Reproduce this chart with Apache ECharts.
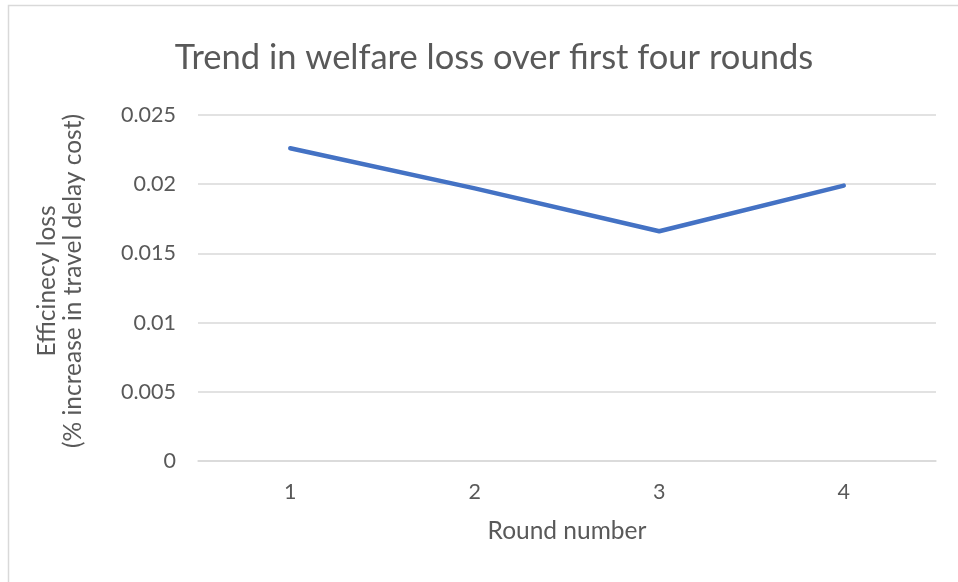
<!DOCTYPE html>
<html>
<head>
<meta charset="utf-8">
<script src="https://cdn.jsdelivr.net/npm/echarts@6/dist/echarts.min.js"></script>
<style>
  html, body { margin: 0; padding: 0; background: #fff; }
  #chart { width: 958px; height: 582px; }
</style>
</head>
<body>
<div id="chart"></div>
<script>
// data
const rounds = ["1", "2", "3", "4"];
const welfareLoss = [0.0226, 0.0197, 0.0166, 0.0199];
const yTicks = { min: 0, max: 0.025, interval: 0.005 };

const textColor = "#595959";
const font = "Lato, 'Open Sans', sans-serif";

const chart = echarts.init(document.getElementById("chart"));
chart.setOption({
  backgroundColor: "#fff",
  animation: false,
  // light frame of the chart area (only top and left edges show)
  graphic: [
    {
      type: "rect",
      shape: { x: 8.5, y: 5.5, width: 1000, height: 700 },
      style: { fill: "none", stroke: "#d9d9d9", lineWidth: 1.5 },
      silent: true,
    },
  ],
  title: {
    text: "Trend in welfare loss over first four rounds",
    left: 489,
    textAlign: "center",
    top: 35,
    textStyle: {
      color: textColor,
      fontFamily: font,
      fontSize: 34.5,
      fontWeight: "normal",
    },
  },
  grid: { left: 198, right: 22, top: 115, bottom: 121 },
  xAxis: {
    type: "category",
    data: rounds,
    boundaryGap: true,
    name: "Round number",
    nameLocation: "middle",
    nameGap: 58,
    nameTextStyle: { color: textColor, fontFamily: font, fontSize: 24.5 },
    axisLine: { lineStyle: { color: "#d9d9d9", width: 1.5 } },
    axisTick: { show: false },
    axisLabel: {
      color: textColor,
      fontFamily: font,
      fontSize: 21.5,
      margin: 20,
    },
  },
  yAxis: {
    type: "value",
    min: yTicks.min,
    max: yTicks.max,
    interval: yTicks.interval,
    name: "Efficinecy loss\n(% increase in travel delay cost)",
    nameLocation: "middle",
    nameGap: 112,
    nameTextStyle: {
      color: textColor,
      fontFamily: font,
      fontSize: 24.5,
      lineHeight: 26,
      padding: [0, 0, 0, 14], // nudges the rotated title a little upward
    },
    axisLine: { show: false },
    axisTick: { show: false },
    splitLine: { lineStyle: { color: "#d9d9d9", width: 1.5 } },
    axisLabel: {
      color: textColor,
      fontFamily: font,
      fontSize: 21.5,
      margin: 22,
    },
  },
  series: [
    {
      type: "line",
      data: welfareLoss,
      showSymbol: false,
      lineStyle: { color: "#4472C4", width: 4.5, cap: "round", join: "round" },
    },
  ],
});
</script>
</body>
</html>
